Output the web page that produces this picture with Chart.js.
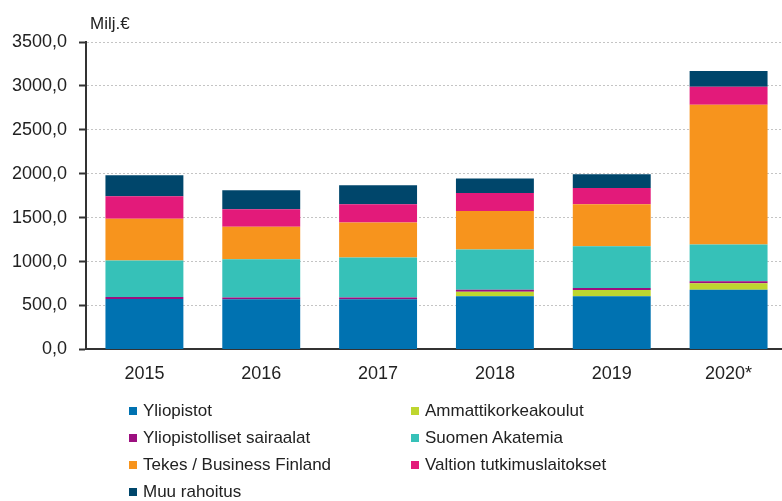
<!DOCTYPE html>
<html><head><meta charset="utf-8">
<script src="https://cdn.jsdelivr.net/npm/chart.js@4"></script>
<style>
html,body{margin:0;padding:0;overflow:hidden;background:#fff;width:782px;height:501px}
#wrap{position:relative;width:800px;height:501px}
canvas{position:absolute;left:0;top:0}
.unit{position:absolute;left:90px;top:14px;font:17px "Liberation Sans",Arial,sans-serif;color:#222;line-height:20px}
.mk{position:absolute;width:8px;height:8px}
.lt{position:absolute;font:17px "Liberation Sans",Arial,sans-serif;color:#222;white-space:nowrap;line-height:20px}
</style>
</head><body>
<div id="wrap">
<canvas id="c" width="800" height="501"></canvas>
<div class="unit">Milj.€</div>
<div id="legend"></div>
</div>
<script>
const years = ["2015","2016","2017","2018","2019","2020*"];
const seriesNames = ["Yliopistot","Ammattikorkeakoulut","Yliopistolliset sairaalat","Suomen Akatemia","Tekes / Business Finland","Valtion tutkimuslaitokset","Muu rahoitus"];
const yliopistot  = [575, 570, 570, 606, 606, 680];
const ammatti     = [0, 0, 0, 51, 69, 72];
const sairaalat   = [22, 20, 20, 23, 23, 23];
const akatemia    = [414, 436, 456, 457, 477, 420];
const tekes       = [477, 370, 400, 439, 477, 1590];
const valtion     = [256, 199, 206, 205, 187, 206];
const muu         = [240, 217, 217, 164, 156, 178];
const colors = ["#0072b1","#bed62f","#9c0f7f","#36c1b8","#f7941d","#e31a7a","#00466b"];
const values = [yliopistot, ammatti, sairaalat, akatemia, tekes, valtion, muu];

const datasets = seriesNames.map((n,i)=>({
  label:n, data:values[i], backgroundColor:colors[i],
  borderWidth:0, categoryPercentage:1.0, barPercentage:0.667
}));

new Chart(document.getElementById('c'),{
  type:'bar',
  data:{labels:years, datasets},
  options:{
    responsive:false, animation:false,
    layout:{padding:{top:42,right:13,bottom:102,left:0}},
    plugins:{legend:{display:false},tooltip:{enabled:false}},
    scales:{
      x:{stacked:true,
        grid:{display:false,drawTicks:false},
        border:{display:true,color:'#333',width:2},
        ticks:{color:'#222',padding:14,font:{family:'"Liberation Sans", Arial, sans-serif',size:18}}
      },
      y:{stacked:true,min:0,max:3500,
        afterFit:s=>{s.width=86;},
        ticks:{stepSize:500,color:'#222',padding:12,
          font:{family:'"Liberation Sans", Arial, sans-serif',size:18},
          callback:v=>v.toFixed(1).replace('.',',')},
        grid:{color:'#c4c4c4',lineWidth:1,tickLength:7,tickColor:'#333',tickWidth:2,tickBorderDash:[]},
        border:{display:true,color:'#333',width:2,dash:[2,2]}
      }
    }
  }
});

const leg=document.getElementById('legend');
seriesNames.forEach((n,i)=>{
  const col=i%2,row=Math.floor(i/2);
  const cy=410.5+row*27.3;
  const m=document.createElement('div');m.className='mk';
  m.style.background=colors[i];
  m.style.left=(col?411:129)+'px';m.style.top=(cy-4)+'px';
  const t=document.createElement('div');t.className='lt';t.textContent=n;
  t.style.left=(col?425:143)+'px';t.style.top=(cy-10)+'px';
  leg.appendChild(m);leg.appendChild(t);
});
</script>
</body></html>
